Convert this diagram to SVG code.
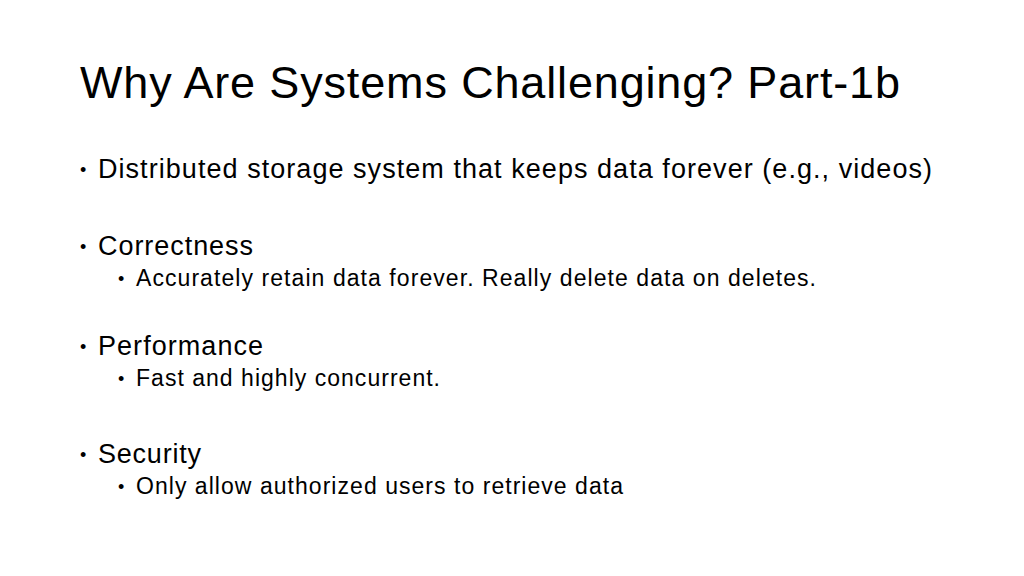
<svg xmlns="http://www.w3.org/2000/svg" width="1024" height="576" viewBox="0 0 1024 576">
<style>
text{font-family:"Liberation Sans",Arial,sans-serif;fill:#000}
.t{font-size:45px}
.b1{font-size:27px}
.b2{font-size:23px}
.d{font-size:18px}
</style>
<rect width="1024" height="576" fill="#fff"/>
<text class="t" x="80" y="98" textLength="820">Why Are Systems Challenging? Part-1b</text>
<g id="b1"><text class="d" x="80" y="176">•</text><text class="b1" x="98" y="178" textLength="834">Distributed storage system that keeps data forever (e.g., videos)</text></g>
<g id="b2"><text class="d" x="80" y="253">•</text><text class="b1" x="98" y="255" textLength="155">Correctness</text>
<text class="d" x="118" y="285">•</text><text class="b2" x="136" y="286" textLength="680">Accurately retain data forever. Really delete data on deletes.</text></g>
<g id="b3"><text class="d" x="80" y="353">•</text><text class="b1" x="98" y="355" textLength="165">Performance</text>
<text class="d" x="118" y="385">•</text><text class="b2" x="136" y="386" textLength="304">Fast and highly concurrent.</text></g>
<g id="b4"><text class="d" x="80" y="461">•</text><text class="b1" x="98" y="463" textLength="103">Security</text>
<text class="d" x="118" y="493">•</text><text class="b2" x="136" y="494" textLength="487">Only allow authorized users to retrieve data</text></g>
</svg>
